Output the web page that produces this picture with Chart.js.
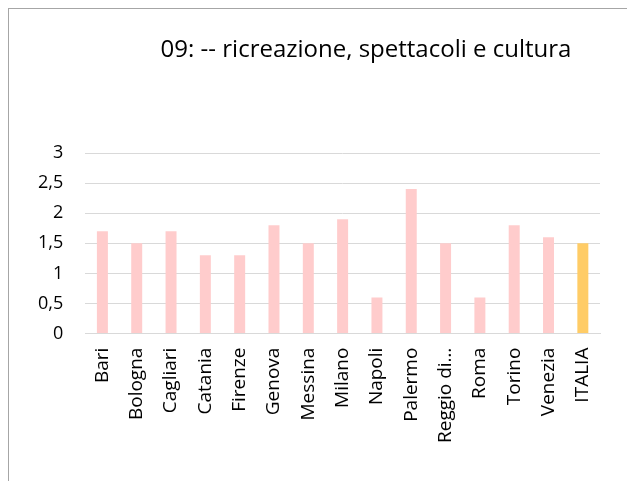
<!DOCTYPE html>
<html>
<head>
<meta charset="utf-8">
<script src="https://cdn.jsdelivr.net/npm/chart.js@4/dist/chart.umd.min.js"></script>
<style>
    body { margin: 0; background: #fff; overflow: hidden; }
    #box {
        position: absolute; left: 8px; top: 8px;
        width: 714px; height: 500px;
        border-top: 1px solid #a6a6a6; border-left: 1px solid #a6a6a6;
    }
</style>
</head>
<body>
<div id="box"><canvas id="spendingChart" width="714" height="472"></canvas></div>
<script>
const chartTitle = '09: -- ricreazione, spettacoli e cultura';
const cities = ['Bari', 'Bologna', 'Cagliari', 'Catania', 'Firenze', 'Genova', 'Messina', 'Milano',
    'Napoli', 'Palermo', 'Reggio di…', 'Roma', 'Torino', 'Venezia', 'ITALIA'];
const values = [1.7, 1.5, 1.7, 1.3, 1.3, 1.8, 1.5, 1.9, 0.6, 2.4, 1.5, 0.6, 1.8, 1.6, 1.5];
const yTicks = [0, 0.5, 1, 1.5, 2, 2.5, 3];

const barColors = cities.map(c => c === 'ITALIA' ? '#ffcc66' : '#ffcccc');

// title is centred on the whole (wider) box, not on the plot, like the original
const boxTitle = {
    id: 'boxTitle',
    afterDraw(chart) {
        const c = chart.ctx;
        c.save();
        c.font = '24px "Open Sans"';
        c.fillStyle = '#000';
        c.textAlign = 'center';
        c.textBaseline = 'alphabetic';
        c.fillText(chartTitle, chart.width / 2, 48);
        c.restore();
    }
};

const ctx = document.getElementById('spendingChart').getContext('2d');
const spendingChart = new Chart(ctx, {
    type: 'bar',
    data: {
        labels: cities,
        datasets: [{
            label: '09',
            data: values,
            backgroundColor: barColors,
            barPercentage: 0.32,
            categoryPercentage: 1
        }]
    },
    options: {
        responsive: false,
        animation: false,
        devicePixelRatio: 1,
        layout: { padding: { left: 7, right: 123, top: 144, bottom: 24 } },
        plugins: {
            legend: { display: false },
            tooltip: { enabled: false },
            title: { display: false }
        },
        scales: {
            x: {
                grid: { display: false, drawTicks: false },
                border: { display: true, color: '#d9d9d9' },
                ticks: {
                    color: '#000',
                    font: { family: 'Open Sans', size: 19 },
                    minRotation: 90,
                    maxRotation: 90,
                    autoSkip: false,
                    padding: 14
                }
            },
            y: {
                min: 0,
                max: 3,
                afterBuildTicks: axis => { axis.ticks = yTicks.map(v => ({ value: v })); },
                grid: { color: '#d9d9d9', drawTicks: false },
                border: { display: false },
                ticks: {
                    color: '#000',
                    font: { family: 'Open Sans', size: 18 },
                    padding: 22,
                    callback: v => String(v).replace('.', ',')
                }
            }
        }
    },
    plugins: [boxTitle]
});
</script>
</body>
</html>
